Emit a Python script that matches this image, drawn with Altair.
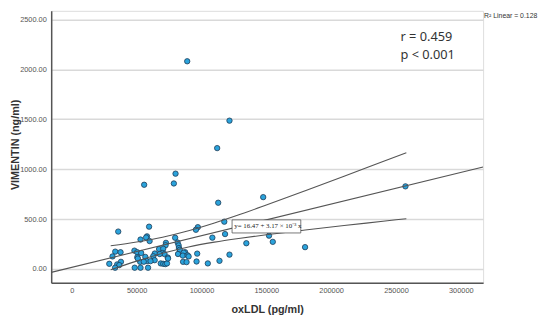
import altair as alt
import pandas as pd

# ---- data ----
ox_ldl = [89000, 121600, 112100, 80000, 78700, 55800, 147600, 112900, 257300,
          117600, 97200, 95700, 59600, 35800,
          118200, 108400, 152100, 79700, 58000, 57300, 53000, 60000,
          134600, 155000, 179900,
          72600, 72300, 81600, 82400, 67300, 70500, 82600, 83300,
          48300, 50400, 33500, 37600, 53500, 64000, 69800, 71500, 87400, 96700, 121600, 81900, 86300,
          31400, 50500, 56700, 62800, 74000, 85600, 89300, 90100, 67800,
          63900, 58000, 52700, 60700, 37900, 85800, 88500, 96200, 113900, 55500,
          28900, 35000, 36600, 68600, 70500, 72100, 104900, 73400, 50900, 74200,
          33400, 48500, 53000, 58800]
vimentin = [2081, 1486, 1211, 955, 857, 844, 720, 664, 828,
            474, 419, 393, 424, 375,
            350, 314, 334, 313, 327, 316, 295, 280,
            258, 272, 219,
            262, 238, 265, 236, 200, 203, 210, 193,
            184, 168, 174, 168, 160, 155, 160, 150, 168, 154, 144, 150, 164,
            126, 118, 121, 128, 115, 134, 137, 126, 150,
            88, 79, 72, 79, 72, 72, 69, 75, 82, 73,
            52, 46, 39, 56, 52, 49, 56, 56, 105, 105,
            13, 13, 13, 13]

ci_x = [30000, 50000, 70000, 90000, 110000, 130000, 150000, 180000, 210000, 240000, 258000]
ci_upper = [232, 271, 319, 383, 461, 548, 641, 784, 929, 1076, 1164]
ci_lower = [-8, 79, 157, 221, 269, 308, 343, 390, 435, 478, 504]

intercept = 16.47
slope = 3.17e-3

x_ticks = [0, 50000, 100000, 150000, 200000, 250000, 300000]
y_ticks = [0, 500, 1000, 1500, 2000, 2500]
x_dom = [-15900, 317200]
y_dom = [-138, 2586]

eq_box_x = [123600, 176600]
eq_box_y = [361, 492]
eq_text = "y= 16.47 + 3.17 × 10⁻³ x"
eq_pos = [125300, 428]

stat_lines = ["r = 0.459", "p < 0.001"]
stat_x = [253500, 253500]
stat_y = [2325, 2140]

r2_label = "R² Linear = 0.128"

# ---- chart ----
W, H = 440, 277
xs = alt.Scale(domain=x_dom, nice=False, zero=False)
ys = alt.Scale(domain=y_dom, nice=False, zero=False)

x_axis = alt.Axis(values=x_ticks, format="d", title="oxLDL (pg/ml)", grid=False,
                  ticks=False, labelPadding=4, labelFontSize=7.5, labelColor="#555",
                  domainColor="#555", domainWidth=1.5,
                  titleFontSize=11, titleFontWeight="bold", titleColor="#333",
                  titleX=220, titleY=27, titleBaseline="middle", titleAlign="center")
y_axis = alt.Axis(values=y_ticks, format=".2f", title="VIMENTIN (ng/ml)", grid=True,
                  gridColor="#d9d9d9", gridWidth=1.5, ticks=False, labelPadding=5,
                  labelFontSize=7.5, labelColor="#555", domainColor="#555", domainWidth=1.5,
                  titleFontSize=11, titleFontWeight="bold", titleColor="#333",
                  titleAngle=270, titleX=-36, titleY=136, titleAlign="center",
                  titleBaseline="middle")


def X(f="x"):
    return alt.X(f"{f}:Q", scale=xs, axis=x_axis)


def Y(f="y"):
    return alt.Y(f"{f}:Q", scale=ys, axis=y_axis)


pts = pd.DataFrame({"x": ox_ldl, "y": vimentin})
points = alt.Chart(pts).mark_circle(size=30, color="#2aa3dc", stroke="#1d3b55",
                                    strokeWidth=0.8, opacity=1).encode(x=X(), y=Y())

ci_df = pd.DataFrame({
    "x": ci_x + ci_x,
    "y": ci_upper + ci_lower,
    "s": ["upper"] * len(ci_x) + ["lower"] * len(ci_x),
})
ci = alt.Chart(ci_df).mark_line(color="#555", strokeWidth=1.1, interpolate="monotone",
                                clip=True).encode(x=X(), y=Y(), detail="s:N")

fit_df = pd.DataFrame({"x": x_dom, "y": [intercept + slope * v for v in x_dom]})
fit = alt.Chart(fit_df).mark_line(color="#555", strokeWidth=1.1, clip=True).encode(x=X(), y=Y())

box_df = pd.DataFrame({"x": [eq_box_x[0]], "x2": [eq_box_x[1]],
                       "y": [eq_box_y[0]], "y2": [eq_box_y[1]]})
box = alt.Chart(box_df).mark_rect(fill="white", stroke="#555", strokeWidth=0.8).encode(
    x=X(), x2="x2:Q", y=Y(), y2="y2:Q")

eq_df = pd.DataFrame({"x": [eq_pos[0]], "y": [eq_pos[1]], "t": [eq_text]})
eq = alt.Chart(eq_df).mark_text(align="left", baseline="middle", font="Liberation Serif",
                                fontSize=7, color="#222").encode(x=X(), y=Y(), text="t:N")

st_df = pd.DataFrame({"x": stat_x, "y": stat_y, "t": stat_lines})
stats = alt.Chart(st_df).mark_text(align="left", baseline="middle", font="Noto Sans",
                                   fontSize=13, color="#333").encode(x=X(), y=Y(), text="t:N")

r2_df = pd.DataFrame({"t": [r2_label]})
r2 = alt.Chart(r2_df).mark_text(align="left", baseline="top", font="Liberation Sans",
                                fontSize=7, color="#333").encode(
    x=alt.value(W + 1), y=alt.value(1), text="t:N")

chart = alt.layer(points, ci, fit, box, eq, stats, r2).properties(
    width=W, height=H,
    autosize=alt.AutoSizeParams(type="none"),
    padding={"left": 44, "top": 0, "right": 60, "bottom": 35},
).configure_view(stroke=None).configure(font="Liberation Sans")

chart.save("out.html", embed_options={"renderer": "svg", "actions": False})
